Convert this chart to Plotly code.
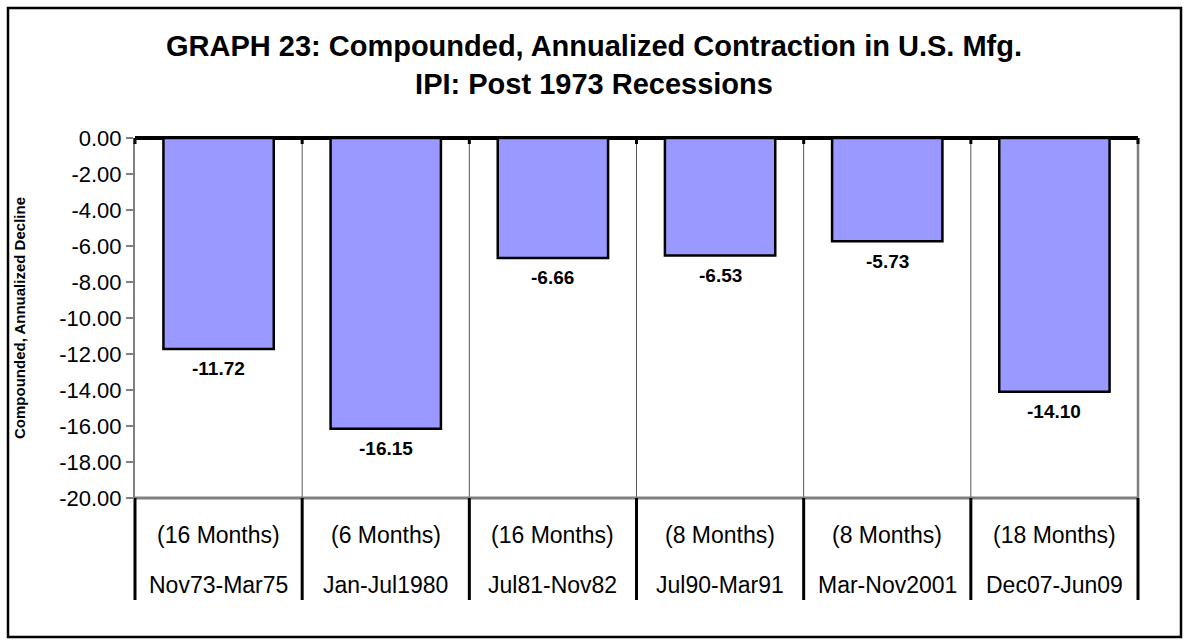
import plotly.graph_objects as go

# ---- data ----
periods = ["Nov73-Mar75", "Jan-Jul1980", "Jul81-Nov82", "Jul90-Mar91", "Mar-Nov2001", "Dec07-Jun09"]
durations = ["(16 Months)", "(6 Months)", "(16 Months)", "(8 Months)", "(8 Months)", "(18 Months)"]
declines = [-11.72, -16.15, -6.66, -6.53, -5.73, -14.10]
y_ticks = [0, -2, -4, -6, -8, -10, -12, -14, -16, -18, -20]

W, H = 1188, 641
ML, MR, MT, MB = 135, 50, 138, 143
PW, PH = W - ML - MR, H - MT - MB
n = len(periods)

FONT = "Liberation Sans, Arial, sans-serif"

fig = go.Figure()
fig.add_trace(go.Bar(
    x=[i + 0.5 for i in range(n)],
    y=declines,
    width=0.66,
    marker=dict(color="#9999FF", line=dict(color="black", width=2.5)),
    hoverinfo="y",
    showlegend=False,
))

annotations = []
# value labels
for i, v in enumerate(declines):
    annotations.append(dict(x=i + 0.5, y=v, xref="x", yref="y", text=f"<b>{v:.2f}</b>",
                            showarrow=False, xanchor="center", yanchor="middle", yshift=-20,
                            font=dict(family=FONT, size=19, color="black")))
# category labels (two rows)
for i in range(n):
    annotations.append(dict(x=(i + 0.5) / n, y=0, xref="paper", yref="paper", text=durations[i],
                            showarrow=False, xanchor="center", yanchor="middle", yshift=-37,
                            font=dict(family=FONT, size=23, color="black")))
    annotations.append(dict(x=(i + 0.5) / n, y=0, xref="paper", yref="paper", text=periods[i],
                            showarrow=False, xanchor="center", yanchor="middle", yshift=-87,
                            font=dict(family=FONT, size=23, color="black")))

shapes = []
def px_x(p):
    return (p - ML) / PW
def px_y(p):
    return (H - MB - p) / PH
# outer chart border
shapes.append(dict(type="rect", xref="paper", yref="paper",
                   x0=px_x(8), x1=px_x(1181), y0=px_y(8), y1=px_y(637),
                   line=dict(color="black", width=2.5), layer="below"))
# thin separators inside plot
for k in range(1, n):
    shapes.append(dict(type="line", xref="paper", yref="paper", x0=k / n, x1=k / n, y0=0, y1=1,
                       line=dict(color="#555555", width=1), layer="below"))
# bottom plot border (grey) and right border
shapes.append(dict(type="line", xref="paper", yref="paper", x0=0, x1=1, y0=0, y1=0,
                   line=dict(color="#808080", width=3)))
shapes.append(dict(type="line", xref="paper", yref="paper", x0=1, x1=1, y0=0, y1=1,
                   line=dict(color="#808080", width=2.5)))
# thick separators in category label area
for k in range(0, n + 1):
    shapes.append(dict(type="line", xref="paper", yref="paper", x0=k / n, x1=k / n,
                       y0=0, y1=-102 / PH, line=dict(color="black", width=3)))
# small category tick marks below zero line
for k in range(0, n + 1):
    shapes.append(dict(type="line", xref="paper", yref="paper", x0=k / n, x1=k / n,
                       y0=1, y1=1 - 6 / PH, line=dict(color="black", width=3)))

fig.update_layout(
    width=W, height=H,
    margin=dict(l=ML, r=MR, t=MT, b=MB),
    paper_bgcolor="white", plot_bgcolor="white",
    title=dict(text="<b>GRAPH 23: Compounded, Annualized Contraction in U.S. Mfg.<br>IPI: Post 1973 Recessions</b>",
               x=0.5, xref="container", xanchor="center",
               y=1 - 56 / H, yref="container", yanchor="top",
               font=dict(family=FONT, size=29, color="black")),
    xaxis=dict(range=[0, n], showticklabels=False, showgrid=False, zeroline=False,
               showline=False, ticks=""),
    yaxis=dict(range=[-20, 0], tickvals=y_ticks, ticktext=[f"{v:.2f}" for v in y_ticks],
               ticks="outside", ticklen=7, tickcolor="#808080", tickwidth=1.5,
               showgrid=False, showline=True, linecolor="#808080", linewidth=2,
               zeroline=True, zerolinecolor="black", zerolinewidth=3.5,
               tickfont=dict(family=FONT, size=22, color="black"),
               title=dict(text="<b>Compounded, Annualized Decline</b>", standoff=30,
                          font=dict(family=FONT, size=15, color="black"))),
    annotations=annotations,
    shapes=shapes,
)

fig.write_html("out.html", config={"displayModeBar": False},
               post_script="document.body.style.margin='0';document.body.style.padding='0';")
